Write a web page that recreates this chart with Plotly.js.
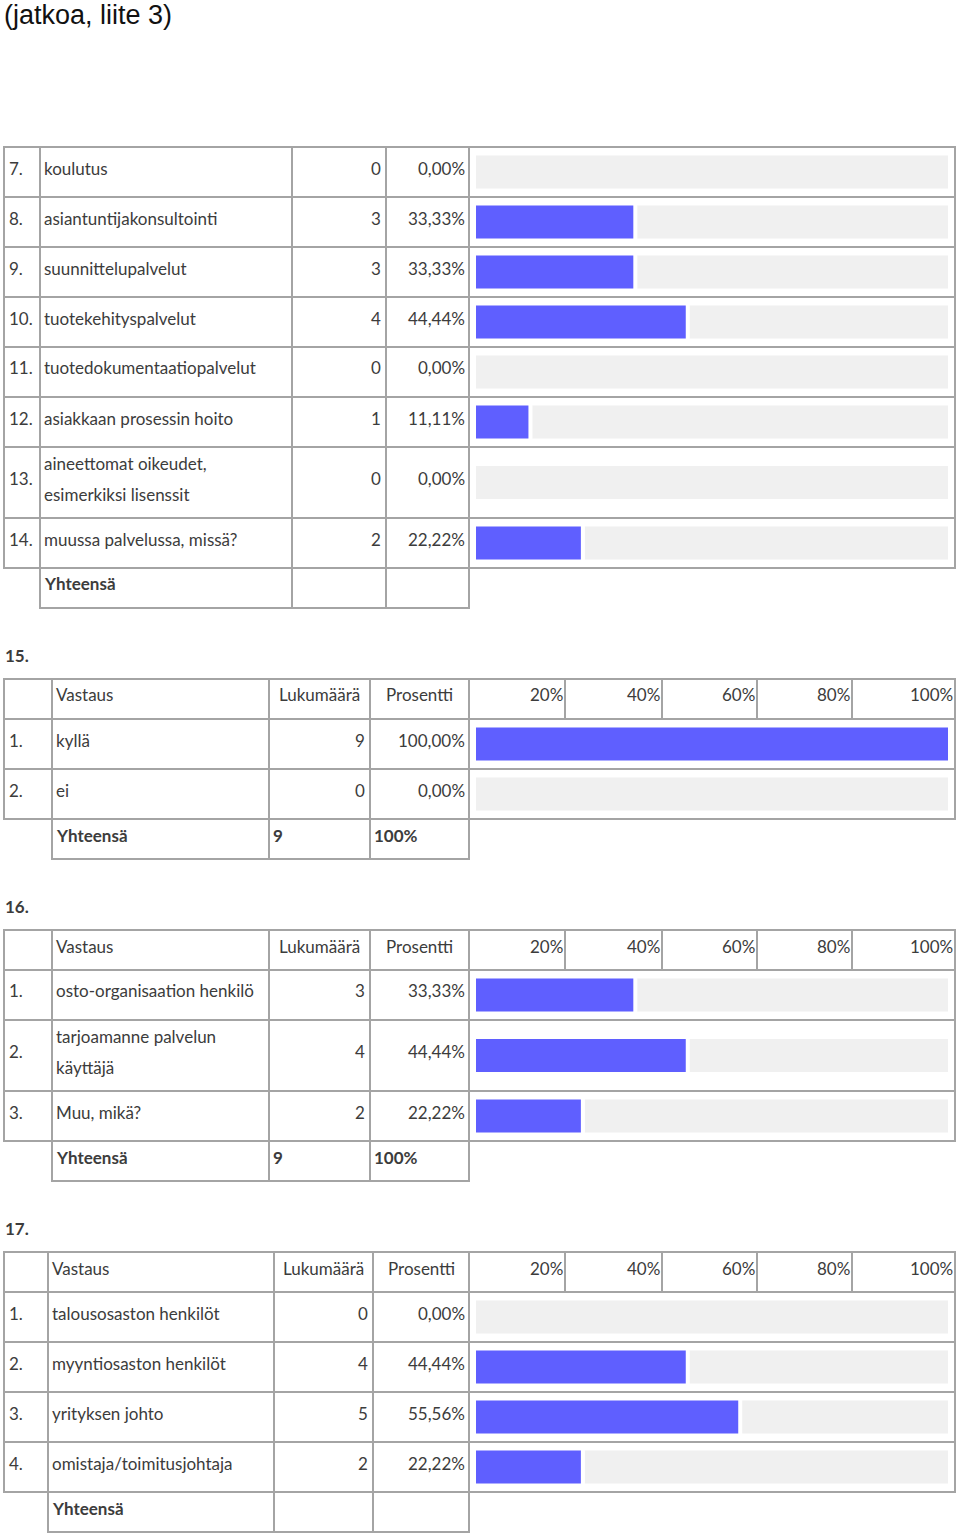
<!DOCTYPE html>
<html><head><meta charset="utf-8">
<script src="https://cdn.plot.ly/plotly-3.0.1.min.js"></script>
<style>html,body{margin:0;padding:0;background:#fff}</style>
</head><body><div id="chart" style="width:960px;height:1534px"></div>
<script>
// ---------- data ----------
const pageTitle = '(jatkoa, liite 3)';

const q14Numbers = ['7.','8.','9.','10.','11.','12.','13.','14.'];
const q14Answers = ['koulutus','asiantuntijakonsultointi','suunnittelupalvelut','tuotekehityspalvelut','tuotedokumentaatiopalvelut','asiakkaan prosessin hoito','aineettomat oikeudet,|esimerkiksi lisenssit','muussa palvelussa, missä?'];
const q14Counts = [0,3,3,4,0,1,0,2];
const q14Percents = [0,33.33,33.33,44.44,0,11.11,0,22.22];

const q15Numbers = ['1.','2.'];
const q15Answers = ['kyllä','ei'];
const q15Counts = [9,0];
const q15Percents = [100,0];
const q15Total = ['9','100%'];

const q16Numbers = ['1.','2.','3.'];
const q16Answers = ['osto-organisaation henkilö','tarjoamanne palvelun|käyttäjä','Muu, mikä?'];
const q16Counts = [3,4,2];
const q16Percents = [33.33,44.44,22.22];
const q16Total = ['9','100%'];

const q17Numbers = ['1.','2.','3.','4.'];
const q17Answers = ['talousosaston henkilöt','myyntiosaston henkilöt','yrityksen johto','omistaja/toimitusjohtaja'];
const q17Counts = [0,4,5,2];
const q17Percents = [0,44.44,55.56,22.22];
const q17Total = ['',''];

const headerLabels = ['Vastaus','Lukumäärä','Prosentti'];
const scaleTickLabels = ['20%','40%','60%','80%','100%'];
const totalLabel = 'Yhteensä';

// ---------- layout helpers ----------
const W = 960, H = 1534;
const LINE = '#a4a4a4', TXT = '#3c3c3c', FONT = 'Lato, "Open Sans", sans-serif', FS = 17;
const shapes = [], annotations = [];
const px = x => x / W, py = y => 1 - y / H;
function hline(x0, x1, y) { shapes.push({type:'line', xref:'paper', yref:'paper', x0:px(x0-1), x1:px(x1+1), y0:py(y), y1:py(y), line:{color:LINE, width:2}}); }
function vline(x, y0, y1) { shapes.push({type:'line', xref:'paper', yref:'paper', x0:px(x), x1:px(x), y0:py(y0-1), y1:py(y1+1), line:{color:LINE, width:2}}); }
function text(str, x, y, anchor, bold) {
  if (str === '') return;
  annotations.push({xref:'paper', yref:'paper', x:px(x), y:py(y), xanchor:anchor, yanchor:'middle', showarrow:false, borderpad:0,
    text: bold ? '<b>' + str + '</b>' : str, font:{family:FONT, size:FS, color:TXT}});
}
const fmtPct = v => v.toFixed(2).replace('.', ',') + '%';

const headerSeps = [565, 662, 757, 852, 955];
const sections = [
  {label:null, top:147, header:false, cols:[4,40,292,386,469,955], nums:q14Numbers, answers:q14Answers, counts:q14Counts, pcts:q14Percents, total:['','']},
  {label:'15.', top:679, header:true, cols:[4,52,269,370,469,955], nums:q15Numbers, answers:q15Answers, counts:q15Counts, pcts:q15Percents, total:q15Total},
  {label:'16.', top:930, header:true, cols:[4,52,269,370,469,955], nums:q16Numbers, answers:q16Answers, counts:q16Counts, pcts:q16Percents, total:q16Total},
  {label:'17.', top:1252, header:true, cols:[4,48,274,373,469,955], nums:q17Numbers, answers:q17Answers, counts:q17Counts, pcts:q17Percents, total:q17Total}
];

const barY = [], barX = [];
const TY = -4; // text vertical tweak
sections.forEach(s => {
  const c = s.cols;
  let y = s.top;
  if (s.label) text(s.label, 4, s.top - 24, 'left', true);
  hline(c[0], c[5], y);
  if (s.header) {
    const yb = y + 40, cy = y + 20 + TY;
    [c[0], c[1], c[2], c[3], c[4]].concat(headerSeps).forEach(x => vline(x, y, yb));
    text(headerLabels[0], c[1] + 3, cy, 'left');
    text(headerLabels[1], (c[2] + c[3]) / 2, cy, 'center');
    text(headerLabels[2], (c[3] + c[4]) / 2, cy, 'center');
    scaleTickLabels.forEach((t, i) => text(t, headerSeps[i] - 1, cy, 'right'));
    y = yb; hline(c[0], c[5], y);
  }
  s.answers.forEach((a, i) => {
    const lines = a.split('|');
    const h = lines.length > 1 ? 71 : 50;
    const yb = y + h, cy = y + h / 2;
    c.forEach(x => vline(x, y, yb));
    text(s.nums[i], c[0] + 4, cy + TY, 'left');
    if (lines.length > 1) {
      text(lines[0], c[1] + 3, cy - 15.5 + TY, 'left');
      text(lines[1], c[1] + 3, cy + 15.5 + TY, 'left');
    } else text(a, c[1] + 3, cy + TY, 'left');
    text(String(s.counts[i]), c[3] - 4, cy + TY, 'right');
    text(fmtPct(s.pcts[i]), c[4] - 3, cy + TY, 'right');
    barY.push(cy); barX.push(s.pcts[i]);
    y = yb; hline(c[0], c[5], y);
  });
  const yb = y + 40, cy = y + 20 + TY;
  [c[1], c[2], c[3], c[4]].forEach(x => vline(x, y, yb));
  hline(c[1], c[4], yb);
  text(totalLabel, c[1] + 3, cy, 'left', true);
  text(s.total[0], c[2] + 3, cy, 'left', true);
  text(s.total[1], c[3] + 3, cy, 'left', true);
});

const common = {type:'bar', orientation:'h', width:33, hoverinfo:'skip', showlegend:false};
const traces = [
  Object.assign({}, common, {y:barY, x:barY.map(() => 100), marker:{color:'#f0f0f0', line:{width:0}}}),
  Object.assign({}, common, {y:barY, x:barX, marker:{color:'#ffffff', line:{color:'#ffffff', width:barX.map(v => v > 0 ? 8 : 0)}}}),
  Object.assign({}, common, {y:barY, x:barX, marker:{color:'#5f5fff', line:{width:0}}})
];

const layout = {
  width: W, height: H,
  margin: {l:0, r:0, t:0, b:0, pad:0},
  paper_bgcolor: '#fff', plot_bgcolor: 'rgba(0,0,0,0)',
  barmode: 'overlay', showlegend: false,
  title: {text: pageTitle, x: 4 / W, xanchor: 'left', xref: 'paper', yref: 'container', y: 1 - 15 / H, yanchor: 'middle',
          font: {family: '"Liberation Sans", Arial, sans-serif', size: 27, color: '#111'}},
  xaxis: {domain: [476 / W, 948 / W], range: [0, 100], visible: false, fixedrange: true},
  yaxis: {domain: [0, 1], range: [H, 0], visible: false, fixedrange: true},
  shapes: shapes, annotations: annotations
};
Plotly.newPlot('chart', traces, layout, {staticPlot: true, displayModeBar: false});
</script></body></html>
